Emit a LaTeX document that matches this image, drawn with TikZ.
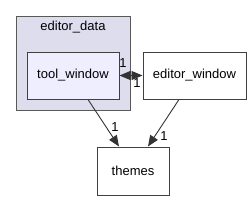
\documentclass[tikz,border=0pt]{standalone}
\usepackage{fontspec}
\setmainfont{Liberation Sans}
\usetikzlibrary{arrows.meta}
\begin{document}
\begin{tikzpicture}[x=1pt,y=-1pt,
  box/.style={draw=black!75, line width=1pt, minimum height=47pt, inner sep=0pt, font=\fontsize{13}{15}\selectfont},
  dep/.style={draw=black!80, line width=0.9pt, -{Triangle[length=11pt,width=9pt]}},
  lbl/.style={font=\fontsize{13}{15}\selectfont, inner sep=0pt}]
\useasboundingbox (0,0) rectangle (251,201);
\node[draw=black!65, fill=blue!8!black!8!white, fill={rgb,255:red,221;green,221;blue,238}, line width=1pt, minimum width=114pt, minimum height=94pt, inner sep=0pt] (cl) at (73,63) {};
\node[lbl] (cllbl) at (73,27) {editor\_data};
\node[box, fill={rgb,255:red,238;green,238;blue,255}, minimum width=92pt] (tw) at (73,75.5) {tool\_window};
\node[box, fill=white, minimum width=103pt] (ew) at (194.5,75.5) {editor\_window};
\node[box, fill=white, minimum width=72pt, minimum height=48pt] (th) at (133,171) {themes};
\coordinate (twb) at (88,99.5);
\coordinate (ewb) at (179,99.5);
\coordinate (th1) at (119,146.5);
\coordinate (th2) at (148,146.5);
\draw[dep] (twb) -- (th1);
\draw[dep] (ewb) -- (th2);
\draw[draw=black!80, line width=0.9pt, {Triangle[length=11pt,width=9pt]}-{Triangle[length=11pt,width=9pt]}] (tw.east) -- (ew.west);
\node[lbl] (l1) at (115,127) {1};
\node[lbl] (l2) at (164,136) {1};
\node[lbl] (l3) at (123,63) {1};
\node[lbl] (l4) at (137,83) {1};
\end{tikzpicture}
\end{document}
